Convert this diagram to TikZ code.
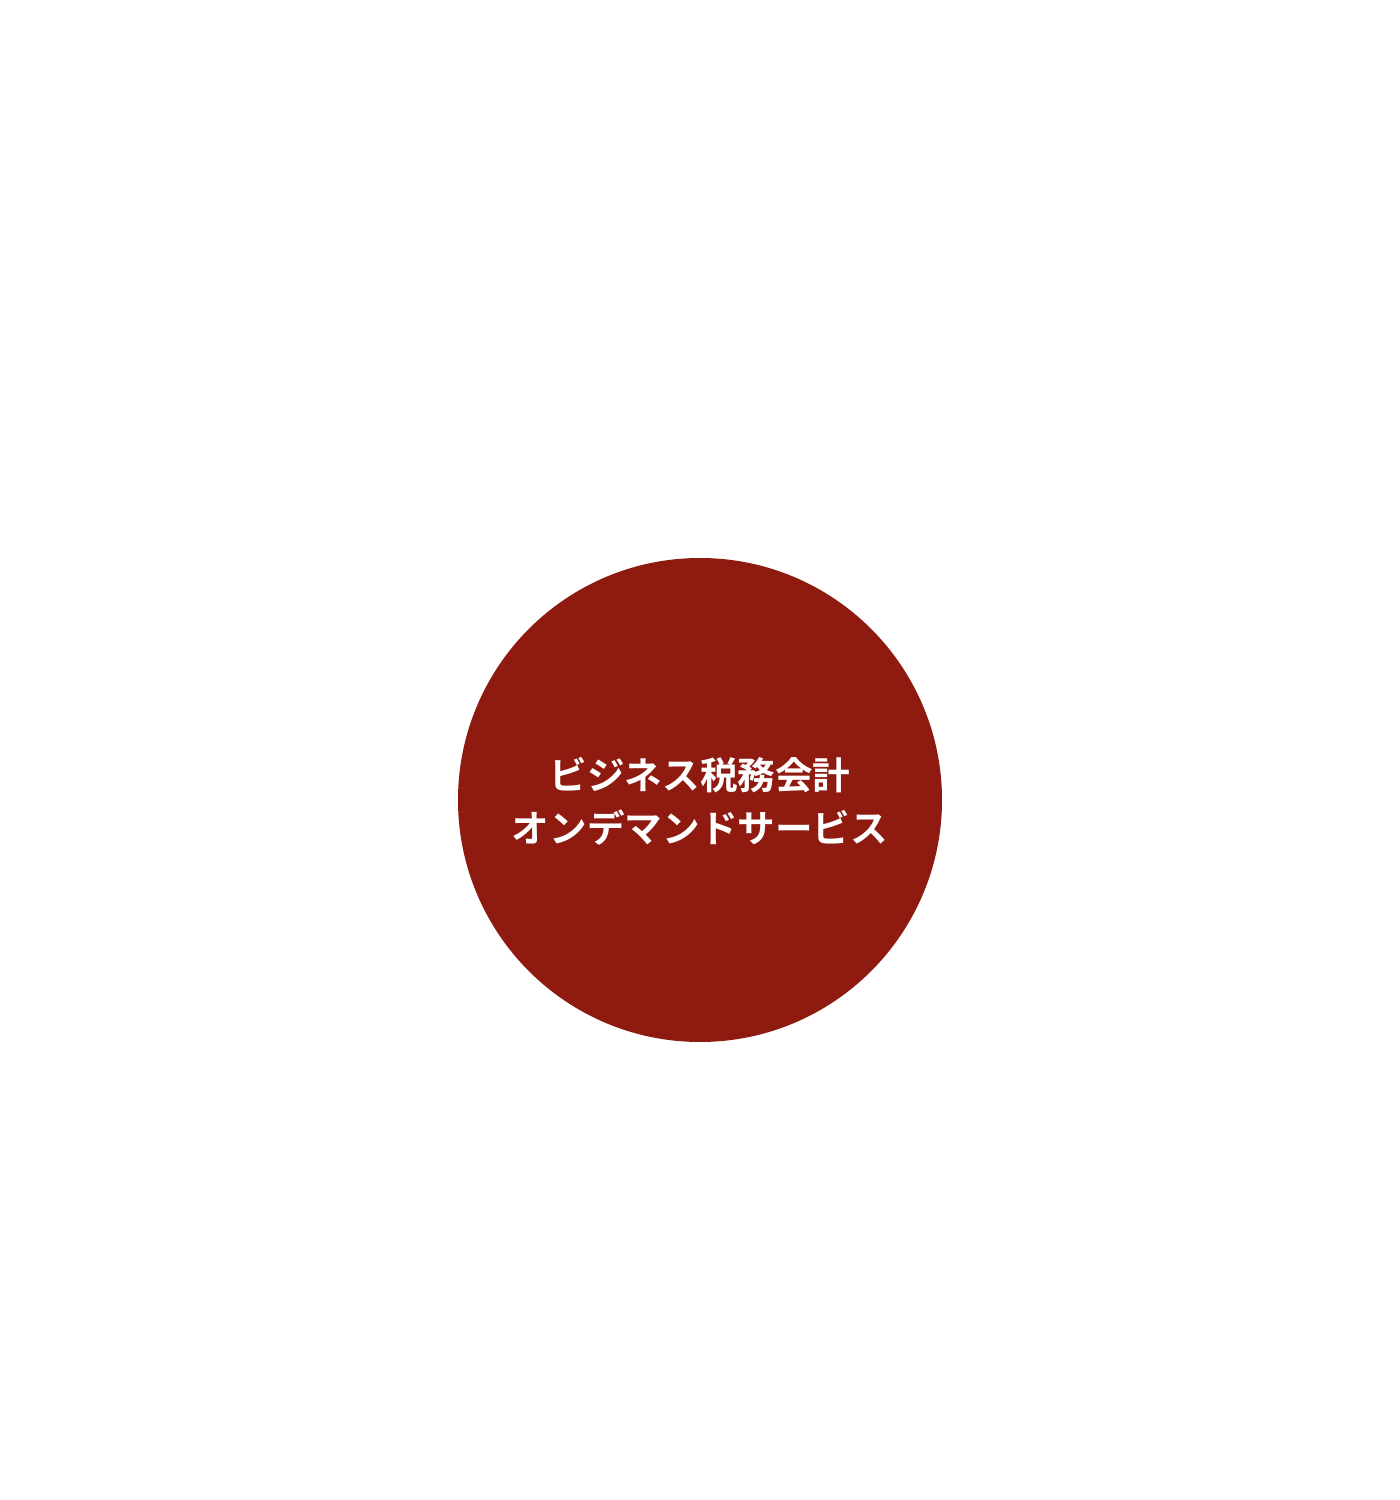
\documentclass[tikz,border=0pt]{standalone}
\usepackage{fontspec}
\newfontfamily\cjk{Noto Sans CJK JP}[BoldFont={* Bold}]
\definecolor{maroon}{HTML}{8E1A10}
\begin{document}
\begin{tikzpicture}
\useasboundingbox (0,0) rectangle (14,15);
\fill[white] (0,0) rectangle (14,15);
\node[circle,fill=maroon,minimum size=4.84cm,inner sep=0pt] (c) at (7,7) {};
\node[text=white,align=center,font=\cjk\bfseries\fontsize{10.7}{15}\selectfont] (t) at (7,6.985) {ビジネス税務会計\\オンデマンドサービス};
\end{tikzpicture}
\end{document}
